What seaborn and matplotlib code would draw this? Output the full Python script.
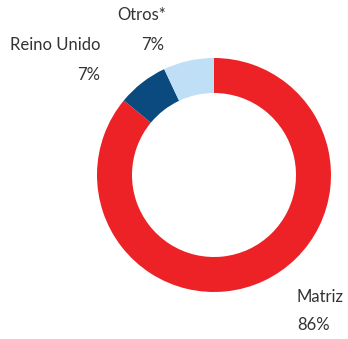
import matplotlib
matplotlib.use("Agg")
import matplotlib.pyplot as plt
import seaborn as sns

categories = ["Matriz", "Reino Unido", "Otros*"]
values = [86, 7, 7]
labels_pct = ["86%", "7%", "7%"]
colors = ["#EC2227", "#0B4A7F", "#BEDFF6"]

sns.set_theme(style="white")
plt.rcParams["font.family"] = ["Lato", "DejaVu Sans"]
palette = sns.color_palette(colors)

fig = plt.figure(figsize=(3.48, 3.39), dpi=100)
ax = fig.add_axes([0, 0, 1, 1])
ax.pie(values, colors=palette, startangle=90, counterclock=False,
       center=(214, 164), radius=117,
       wedgeprops=dict(width=35, edgecolor="none", linewidth=0))
ax.set_xlim(0, 348)
ax.set_ylim(0, 339)
ax.set_aspect("equal")
ax.axis("off")

tc = "#333333"
fs = 12
# Otros*
ax.text(166, 339 - 15, categories[2], ha="right", va="center", fontsize=fs, color=tc)
ax.text(164, 339 - 45, labels_pct[2], ha="right", va="center", fontsize=fs, color=tc)
# Reino Unido
ax.text(100, 339 - 45, categories[1], ha="right", va="center", fontsize=fs, color=tc)
ax.text(100, 339 - 75, labels_pct[1], ha="right", va="center", fontsize=fs, color=tc)
# Matriz
ax.text(297, 339 - 297, categories[0], ha="left", va="center", fontsize=fs, color=tc)
ax.text(297, 339 - 325, labels_pct[0], ha="left", va="center", fontsize=fs, color=tc)

fig.savefig("out.png", dpi=100, facecolor="white")
